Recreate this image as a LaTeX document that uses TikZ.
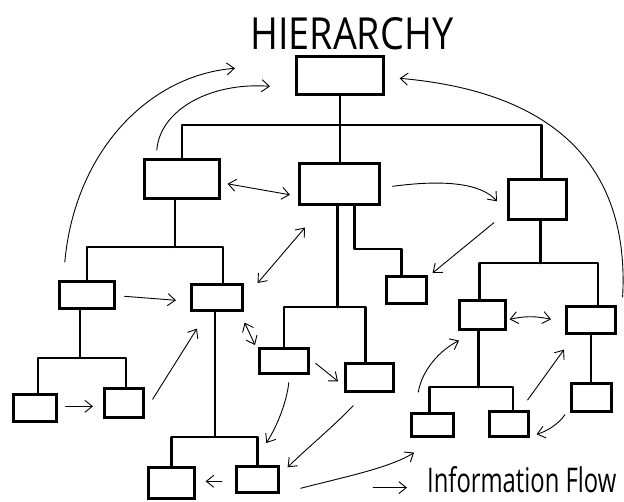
\documentclass[tikz,border=0pt]{standalone}
\usepackage{fontspec}
\newfontfamily\handfont{Open Sans}
\usetikzlibrary{arrows.meta,calc}

\tikzset{
  box/.style={draw, line width=2.6pt, inner sep=0pt, anchor=north west},
  tree/.style={line width=2.6pt, line cap=round, line join=round},
  barb/.tip={Straight Barb[length=7.5pt,width=12pt,line width=0.9pt]},
  flow/.style={line width=0.9pt, line cap=round, -barb},
  both/.style={line width=0.9pt, line cap=round, barb-barb},
  label/.style={inner sep=0pt, anchor=south west},
}

\begin{document}
\begin{tikzpicture}[x=1pt, y=-1pt]
\useasboundingbox (0,0) rectangle (624,501);

% title
\node[label] (title) at (250,50) {\resizebox{203pt}{32pt}{\handfont HIERARCHY}};

% boxes: top-left corner, width, height
\node[box, minimum width=87pt, minimum height=38pt] (T)   at (295,55)  {};
\node[box, minimum width=75pt, minimum height=39pt] (L1a) at (143,158) {};
\node[box, minimum width=80pt, minimum height=41pt] (L1b) at (298,162) {};
\node[box, minimum width=58pt, minimum height=40pt] (L1c) at (507,178) {};
\node[box, minimum width=55pt, minimum height=27pt] (L2a) at (58,280)  {};
\node[box, minimum width=51pt, minimum height=26pt] (L2b) at (190,283) {};
\node[box, minimum width=43pt, minimum height=27pt] (L3a) at (12,393)  {};
\node[box, minimum width=39pt, minimum height=29pt] (L3b) at (103,387) {};
\node[box, minimum width=46pt, minimum height=31pt] (L4a) at (147,466) {};
\node[box, minimum width=42pt, minimum height=26pt] (L4b) at (235,465) {};
\node[box, minimum width=49pt, minimum height=25pt] (M1)  at (258,347) {};
\node[box, minimum width=40pt, minimum height=27pt] (M2)  at (385,275) {};
\node[box, minimum width=48pt, minimum height=28pt] (M3)  at (344,362) {};
\node[box, minimum width=46pt, minimum height=29pt] (R1)  at (458,299) {};
\node[box, minimum width=49pt, minimum height=27pt] (R2)  at (565,305) {};
\node[box, minimum width=40pt, minimum height=28pt] (R3)  at (570,382) {};
\node[box, minimum width=42pt, minimum height=23pt] (N1)  at (410,412) {};
\node[box, minimum width=39pt, minimum height=25pt] (N2)  at (488,410) {};

% levels of the horizontal bars
\coordinate (yA) at (0,125);
\coordinate (yB) at (0,247);
\coordinate (yC) at (0,358);
\coordinate (yD) at (0,437);
\coordinate (yM) at (0,307);
\coordinate (yM2) at (0,249);
\coordinate (yR) at (0,263);
\coordinate (yN) at (0,387);

% attachment points
\coordinate (c1)  at ($(L1c.north)+(4,0)$);
\coordinate (pa)  at ($(L1a.south)+(-7,0)$);
\coordinate (qb)  at ($(L2b.north)+(6,0)$);
\coordinate (pa2) at ($(L2a.south)+(-7,0)$);
\coordinate (q3a) at ($(L3a.north)+(3,0)$);
\coordinate (q3b) at ($(L3b.north)+(2,0)$);
\coordinate (pb2) at ($(L2b.south)+(-2,0)$);
\coordinate (pm)  at ($(L1b.south)+(-2,0)$);
\coordinate (qm3) at ($(M3.north)+(-4,0)$);
\coordinate (pm2) at ($(L1b.south)+(15,0)$);
\coordinate (qm2) at ($(M2.north)+(-5,0)$);
\coordinate (pc)  at ($(L1c.south)+(3,0)$);
\coordinate (qr1) at ($(R1.north)+(-3,0)$);
\coordinate (qr2) at ($(R2.north)+(7,0)$);
\coordinate (pr1) at ($(R1.south)+(-4,0)$);
\coordinate (qn1) at ($(N1.north)+(-3,0)$);
\coordinate (qn2) at ($(N2.north)+(4,0)$);

% tree connectors
\draw[tree] (T.south) -- (T.south |- L1b.north);
\draw[tree] (L1a.north) -- (L1a.north |- yA) -- (c1 |- yA) -- (c1);

\draw[tree] (pa) -- (pa |- yB);
\draw[tree] (L2a.north) -- (L2a.north |- yB) -- (qb |- yB) -- (qb);

\draw[tree] (pa2) -- (pa2 |- yC);
\draw[tree] (q3a) -- (q3a |- yC) -- (q3b |- yC) -- (q3b);

\draw[tree] (pb2) -- (pb2 |- yD);
\draw[tree] (L4a.north) -- (L4a.north |- yD) -- (L4b.north |- yD) -- (L4b.north);

\draw[tree] (pm) -- (pm |- yM);
\draw[tree] (M1.north) -- (M1.north |- yM) -- (qm3 |- yM) -- (qm3);

\draw[tree] (pm2) -- (pm2 |- yM2) -- (qm2 |- yM2) -- (qm2);

\draw[tree] (pc) -- (pc |- yR);
\draw[tree] (qr1) -- (qr1 |- yR) -- (qr2 |- yR) -- (qr2);

\draw[tree] (pr1) -- (pr1 |- yN);
\draw[tree] (qn1) -- (qn1 |- yN) -- (qn2 |- yN) -- (qn2);

\draw[tree] (R2.south) -- (R2.south |- R3.north);

% information flow
\draw[flow] ($(L1a.north)+(-25,-8)$) .. controls (160,110) and (210,82) .. ($(T.west)+(-25,11)$);
\draw[flow] ($(L2a.north)+(-22,-18)$) .. controls (75,150) and (150,75) .. ($(T.west)+(-60,-7)$);
\draw[flow] ($(R2.north east)+(6,-8)$) .. controls (628,200) and (590,95) .. ($(T.east)+(15,3)$);
\draw[flow] ($(L1b.east)+(12,2.5)$) .. controls (440,180) and (480,182) .. ($(L1c.west)+(-10,2)$);
\draw[both] ($(L1a.east)+(7,5)$) -- ($(L1b.west)+(-8,11)$);
\draw[both] ($(L2b.north east)+(14,0)$) -- ($(L1b.south west)+(7,22)$);
\draw[flow] ($(L2a.east)+(9,1.5)$) -- ($(L2b.west)+(-14,3)$);
\draw[flow] ($(L3a.east)+(8,-1.5)$) -- ($(L3b.west)+(-10,3.5)$);
\draw[flow] ($(L3b.east)+(8,-3.5)$) -- ($(L2b.south west)+(7,17)$);
\draw[both] ($(L2b.south east)+(1,11)$) -- ($(M1.north west)+(-3,-2)$);
\draw[flow] ($(M1.east)+(6,2.5)$) -- ($(M3.west)+(-6,4)$);
\draw[flow] ($(M1.south)+(5,8)$) .. controls (287,400) and (278,425) .. ($(L4b.north)+(9,-22)$);
\draw[flow] ($(M3.south)+(-16,13)$) .. controls (335,425) and (305,450) .. ($(L4b.east)+(8,-12)$);
\draw[flow] ($(L4b.east)+(21,9)$) .. controls (340,478) and (390,468) .. ($(N1.south west)+(4,15)$);
\draw[flow] ($(L4b.west)+(-13,2)$) -- ($(L4a.east)+(10,-1.5)$);
\draw[flow] ($(L1c.south west)+(-13,2)$) -- ($(M2.north east)+(5,-2)$);
\draw[both] ($(R1.east)+(3,4.5)$) to[bend left=12] ($(R2.west)+(-14,-0.5)$);
\draw[flow] ($(N1.north)+(-14,-20)$) .. controls (422,370) and (440,350) .. ($(R1.south west)+(1,10)$);
\draw[flow] ($(N2.north east)+(-2,-10)$) -- ($(R2.south west)+(-1,15)$);
\draw[flow] ($(R3.south west)+(-5,2)$) .. controls (558,425) and (545,432) .. ($(N2.east)+(7,10.5)$);

% legend
\node[label] (legend) at (427,493) {\handfont\fontsize{34}{34}\selectfont\scalebox{0.7}[1]{Information Flow}};
\draw[flow] ($(legend.west)+(-54,8)$) -- ($(legend.west)+(-20,8)$);
\end{tikzpicture}
\end{document}
